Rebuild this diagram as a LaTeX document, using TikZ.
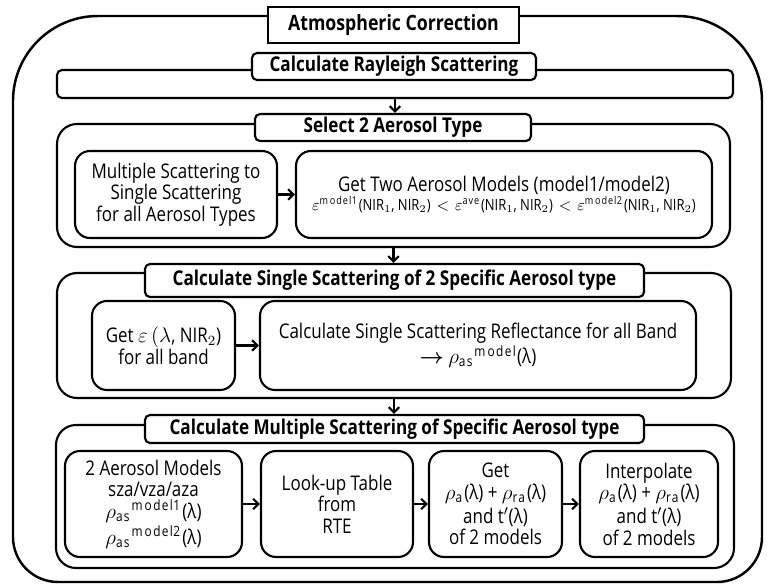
\documentclass[tikz,border=0pt]{standalone}
\usepackage{fontspec}
\setmainfont{Open Sans}[FakeStretch=0.84]
\usetikzlibrary{arrows.meta}

\tikzset{
  panel/.style={draw,line width=1.2pt,rounded corners=0.4cm,inner sep=0pt},
  headbox/.style={draw,line width=1.2pt,rounded corners=0.1cm,fill=white,inner sep=0pt,
    font=\fontsize{11.6}{13}\selectfont\bfseries},
  stepbox/.style={draw,line width=1.2pt,rounded corners=0.3cm,inner sep=0pt,align=center,
    font=\fontsize{11.5}{12.2}\selectfont},
  flow/.style={line width=1.2pt,-{Straight Barb[length=3pt,width=6pt]}}
}

\begin{document}
\begin{tikzpicture}[x=0.02cm,y=-0.02cm]
\def\u{0.02cm}
\useasboundingbox (0,0) rectangle (767,585);

% outer frame
\draw[line width=1.4pt,rounded corners=1.7cm] (13,300) |- (400,16) -| (762,300)
  [rounded corners=0.9cm] |- (400,582) -| (13,300);
\node[draw,line width=1.2pt,fill=white,inner sep=0pt,minimum width=251*\u,minimum height=36*\u,
  font=\fontsize{12}{13}\selectfont\bfseries] (atm) at (393.5,25) {Atmospheric Correction};

% Rayleigh
\node[panel,rounded corners=0.1cm,minimum width=676*\u,minimum height=28*\u] (ray) at (395,84) {};
\node[headbox,minimum width=284*\u,minimum height=27*\u] (raytitle) at (394,66.5) {Calculate Rayleigh Scattering};

% aerosol type selection
\node[panel,minimum width=673*\u,minimum height=123*\u] (sel) at (393.5,185.5) {};
\node[headbox,minimum width=276*\u,minimum height=27*\u] (seltitle) at (393,127.5) {Select 2 Aerosol Type};
\node[stepbox,minimum width=202*\u,minimum height=87*\u] (ms2ss) at (176,194.5)
  {Multiple Scattering to\\Single Scattering\\for all Aerosol Types};
\node[stepbox,minimum width=416*\u,minimum height=87*\u] (twomod) at (504,194.5)
  {Get Two Aerosol Models (model1/model2)\\[-1pt]
   {\fontsize{8.8}{10}\selectfont $\varepsilon^{\mathrm{model1}}$(NIR$_1$, NIR$_2$) \,$<$\,
   $\varepsilon^{\mathrm{ave}}$(NIR$_1$, NIR$_2$) \,$<$\, $\varepsilon^{\mathrm{model2}}$(NIR$_1$, NIR$_2$)}};

% single scattering
\node[panel,minimum width=674*\u,minimum height=125*\u] (ss) at (394,335.5) {};
\node[headbox,minimum width=499*\u,minimum height=33*\u] (sstitle) at (394.5,280.5)
  {Calculate Single Scattering of 2 Specific Aerosol type};
\node[stepbox,minimum width=143*\u,minimum height=89*\u] (eps) at (163.5,345.5)
  {Get $\varepsilon\,(\lambda$, NIR$_2$)\\for all band};
\node[stepbox,minimum width=436*\u,minimum height=89*\u] (ssref) at (478,345.5)
  {Calculate Single Scattering Reflectance for all Band\\
   {\boldmath$\rightarrow$} $\rho_{\mathrm{as}}{}^{\mathrm{model}}$(λ)};

% multiple scattering
\node[panel,minimum width=678*\u,minimum height=143*\u] (msc) at (395,496.5) {};
\node[headbox,minimum width=499*\u,minimum height=28*\u] (msctitle) at (394.5,429)
  {Calculate Multiple Scattering of Specific Aerosol type};
\node[stepbox,minimum width=177*\u,minimum height=106*\u] (models) at (153.5,504)
  {2 Aerosol Models\\sza/vza/aza\\$\rho_{\mathrm{as}}{}^{\mathrm{model1}}$(λ)\\[1pt]
   $\rho_{\mathrm{as}}{}^{\mathrm{model2}}$(λ)};
\node[stepbox,minimum width=152*\u,minimum height=106*\u] (lut) at (337,504)
  {Look-up Table\\from\\RTE};
\node[stepbox,minimum width=133*\u,minimum height=106*\u] (getrho) at (495.5,504)
  {Get\\$\rho_{\mathrm{a}}$(λ) + $\rho_{\mathrm{ra}}$(λ)\\[1.5pt]and t$'$(λ)\\of 2 models};
\node[stepbox,minimum width=138*\u,minimum height=106*\u] (interp) at (649,504)
  {Interpolate\\$\rho_{\mathrm{a}}$(λ) + $\rho_{\mathrm{ra}}$(λ)\\[1.5pt]and t$'$(λ)\\of 2 models};

% arrows
\draw[flow] (ray.south) -- (ray.south |- seltitle.north);
\draw[flow] (ms2ss) -- (twomod);
\draw[flow] (sel.south) -- (sel.south |- sstitle.north);
\draw[flow] (eps) -- (ssref);
\draw[flow] (ss.south) -- (ss.south |- msctitle.north);
\draw[flow] (models) -- (lut);
\draw[flow] (lut) -- (getrho);
\draw[flow] (getrho) -- (interp);
\end{tikzpicture}
\end{document}
